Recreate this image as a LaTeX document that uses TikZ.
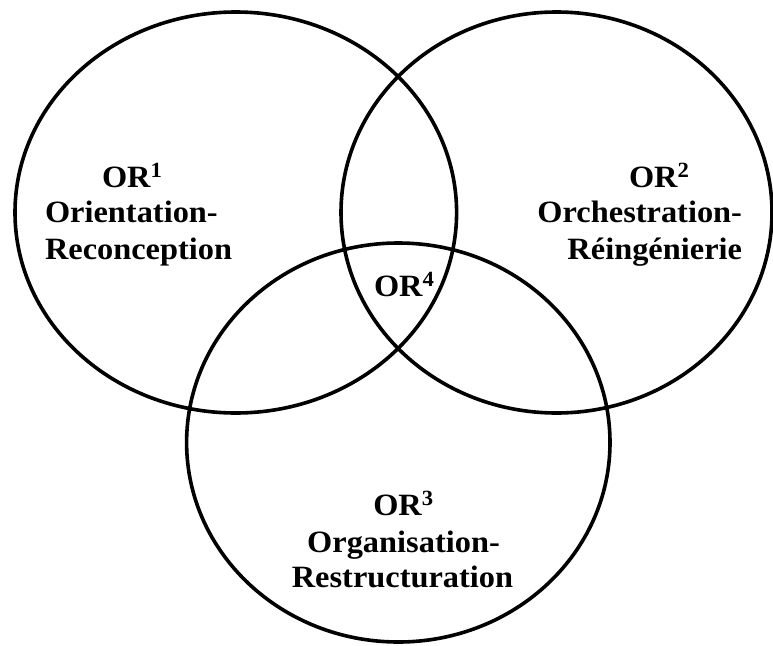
\documentclass[tikz,border=0pt]{standalone}
\usepackage{fontspec}
\setmainfont{Liberation Serif}
\usetikzlibrary{shapes.geometric}
\tikzset{
  ring/.style={draw=black, line width=3.6pt, ellipse, inner sep=0pt, outer sep=0pt},
  lbl/.style={inner sep=0pt, outer sep=0pt, font=\fontsize{31}{36}\selectfont\bfseries}
}
\newcommand{\wide}[1]{\scalebox{1.045}[1]{#1}}
\begin{document}
\begin{tikzpicture}[x=1pt,y=-1pt]
\useasboundingbox (0,0) rectangle (773,645);
\node[ring, minimum width=441.6pt, minimum height=401pt] (c1) at (235.8,212.5) {};
\node[ring, minimum width=431pt, minimum height=401pt] (c2) at (556.5,212.5) {};
\node[ring, minimum width=423.4pt, minimum height=399pt] (c3) at (398.3,442.5) {};
% left
\node[lbl, anchor=base west] (t1a) at (102,187) {\wide{OR\textsuperscript{1}}};
\node[lbl, anchor=base west] (t1b) at (45,222) {\wide{Orientation-}};
\node[lbl, anchor=base west] (t1c) at (45,259) {\wide{Reconception}};
% right
\node[lbl, anchor=base west] (t2a) at (629,187) {\wide{OR\textsuperscript{2}}};
\node[lbl, anchor=base east] (t2b) at (742,222) {\wide{Orchestration-}};
\node[lbl, anchor=base east] (t2c) at (742,259) {\wide{Réingénierie}};
% centre
\node[lbl, anchor=base west] (t4) at (374,296) {\wide{OR\textsuperscript{4}}};
% bottom
\node[lbl, anchor=base] (t3a) at (403.5,515) {\wide{OR\textsuperscript{3}}};
\node[lbl, anchor=base] (t3b) at (403.5,552) {\wide{Organisation-}};
\node[lbl, anchor=base] (t3c) at (402.5,587) {\wide{Restructuration}};
\end{tikzpicture}
\end{document}
